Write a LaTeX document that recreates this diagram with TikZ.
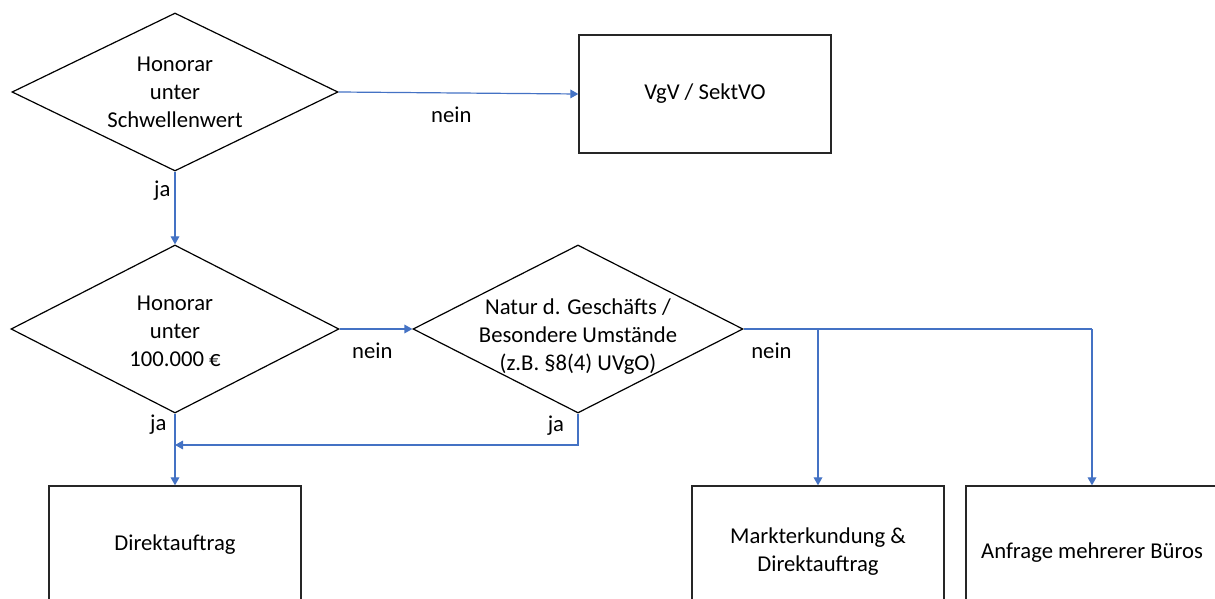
\documentclass[tikz,border=0pt]{standalone}
\usepackage{fontspec}
\setmainfont{Carlito}
\usetikzlibrary{arrows.meta, shapes.geometric}
\definecolor{flowblue}{HTML}{4472C4}
\tikzset{
  flownode/.style = {align=center, inner sep=0pt, text centered,
    font=\fontsize{17}{21}\selectfont},
  dec_n/.style = {diamond, draw=black, line width=0.9pt, inner sep=0pt,
    minimum width=244.5pt, minimum height=118.5pt},
  box_n/.style = {flownode, rectangle, draw=black!85, line width=1pt,
    minimum width=189pt, minimum height=88.5pt},
  lbl/.style = {font=\fontsize{17}{21}\selectfont, inner sep=0pt},
  flow_e/.style = {draw=flowblue, line width=0.9pt}}

\begin{document}
\begin{tikzpicture}[->, >={Triangle[width=6.5pt, length=6pt]}, x=0.75pt, y=-0.75pt]
\clip (0,0) rectangle (1215,599);
\useasboundingbox (0,0) rectangle (1215,599);

\node [dec_n, label={[flownode]center:{Honorar\\unter\\Schwellenwert}}] (thresh) at (175,92) {};
\node [box_n] (vgv) at (705,94) {VgV / SektVO};
\node [dec_n, minimum width=246pt, minimum height=126pt,
  label={[flownode, yshift=-1.5pt]center:{Honorar\\unter\\100.000 €}}] (fee) at (175,329) {};
\node [dec_n, minimum width=247.5pt, minimum height=126pt,
  label={[flownode, yshift=-6pt]center:{Natur d. Geschäfts /\\Besondere Umstände\\(z.B. §8(4) UVgO)}}] (nature) at (578,329) {};
\node [box_n] (direct) at (175,545) {Direktauftrag};
\node [box_n, label={[flownode, yshift=-5pt]center:{Markterkundung \&\\Direktauftrag}}] (market) at (818,545) {};
\node [box_n, label={[flownode, yshift=-6pt]center:{Anfrage mehrerer Büros}}] (offers) at (1092,545) {};
\coordinate (join) at (175,445);

\draw [flow_e] (thresh.east) -- node [lbl, pos=0.47, below=10pt] {nein} (vgv.west);
\draw [flow_e] (thresh.south) -- node [lbl, pos=0.26, left=3pt] {ja} (fee.north);
\draw [flow_e] (fee.east) -- node [lbl, pos=0.45, below=10pt] {nein} (nature.west);
\draw [flow_e] (fee.south) -- node [lbl, pos=0.16, left=6pt] {ja} (direct.north);
\draw [flow_e] (nature.south) -- node [lbl, pos=0.375, left=10pt] {ja} (nature.south |- join) -- (join);
\draw [flow_e, -] (nature.east) -- node [lbl, pos=0.08, below=10pt] {nein} (offers.north |- nature.east);
\draw [flow_e] (offers.north |- nature.east) -- (offers.north);
\draw [flow_e] (market.north |- nature.east) -- (market.north);
\end{tikzpicture}
\end{document}
